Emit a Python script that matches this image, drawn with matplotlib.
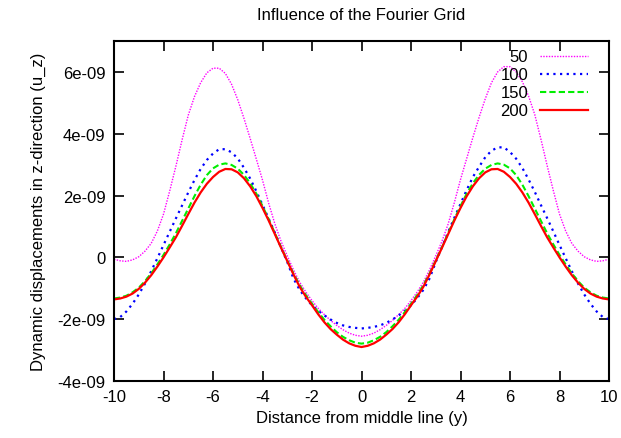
import matplotlib
matplotlib.use("Agg")
import matplotlib.pyplot as plt

plt.rcParams['font.family'] = ['Liberation Sans', 'DejaVu Sans']

x = [-10.0, -9.75, -9.5, -9.25, -9.0, -8.75, -8.5, -8.25, -8.0, -7.75,
     -7.5, -7.25, -7.0, -6.75, -6.5, -6.25, -6.0, -5.75, -5.5, -5.25,
     -5.0, -4.75, -4.5, -4.25, -4.0, -3.75, -3.5, -3.25, -3.0, -2.75,
     -2.5, -2.25, -2.0, -1.75, -1.5, -1.25, -1.0, -0.75, -0.5, -0.25,
     0.0,
     0.25, 0.5, 0.75, 1.0, 1.25, 1.5, 1.75, 2.0, 2.25, 2.5,
     2.75, 3.0, 3.25, 3.5, 3.75, 4.0, 4.25, 4.5, 4.75, 5.0,
     5.25, 5.5, 5.75, 6.0, 6.25, 6.5, 6.75, 7.0, 7.25, 7.5,
     7.75, 8.0, 8.25, 8.5, 8.75, 9.0, 9.25, 9.5, 9.75, 10.0]

# values in units of 1e-9
u50 = [-0.06, -0.11, -0.13, -0.08, 0.02, 0.2, 0.45, 0.85, 1.4, 2.15,
       2.95, 3.8, 4.6, 5.2, 5.65, 5.97, 6.12, 6.12, 5.95, 5.6,
       5.1, 4.5, 3.85, 3.18, 2.5, 1.75, 1.08, 0.52, 0.05, -0.4,
       -0.8, -1.12, -1.4, -1.65, -1.85, -2.04, -2.2, -2.34, -2.45, -2.52,
       -2.55,
       -2.52, -2.45, -2.34, -2.2, -2.04, -1.85, -1.65, -1.4, -1.12, -0.8,
       -0.4, 0.05, 0.52, 1.08, 1.77, 2.52, 3.2, 3.88, 4.53, 5.13,
       5.65, 6.0, 6.17, 6.17, 6.0, 5.68, 5.22, 4.62, 3.82, 2.97,
       2.16, 1.4, 0.85, 0.45, 0.2, 0.02, -0.08, -0.13, -0.11, -0.06]
u100 = [-2.0, -1.93, -1.75, -1.5, -1.2, -0.85, -0.45, -0.03, 0.4, 0.83,
        1.26, 1.68, 2.1, 2.5, 2.86, 3.15, 3.36, 3.5, 3.5, 3.4,
        3.2, 2.9, 2.55, 2.14, 1.7, 1.25, 0.8, 0.32, -0.15, -0.68,
        -1.05, -1.32, -1.55, -1.73, -1.88, -2.01, -2.12, -2.2, -2.25, -2.28,
        -2.3,
        -2.28, -2.25, -2.2, -2.12, -2.01, -1.88, -1.73, -1.55, -1.32, -1.05,
        -0.68, -0.15, 0.33, 0.82, 1.28, 1.73, 2.18, 2.6, 2.93, 3.24,
        3.45, 3.56, 3.56, 3.41, 3.19, 2.89, 2.52, 2.12, 1.69, 1.27,
        0.84, 0.4, -0.03, -0.45, -0.85, -1.2, -1.5, -1.75, -1.93, -2.0]
u150 = [-1.33, -1.3, -1.24, -1.13, -0.98, -0.77, -0.52, -0.23, 0.08, 0.42,
        0.78, 1.18, 1.58, 1.98, 2.35, 2.66, 2.88, 3.0, 3.04, 2.99,
        2.87, 2.67, 2.4, 2.06, 1.66, 1.23, 0.78, 0.33, -0.1, -0.52,
        -0.9, -1.22, -1.5, -1.77, -2.02, -2.23, -2.42, -2.57, -2.68, -2.76,
        -2.79,
        -2.76, -2.68, -2.57, -2.42, -2.23, -2.02, -1.77, -1.5, -1.22, -0.9,
        -0.52, -0.1, 0.33, 0.78, 1.23, 1.66, 2.06, 2.4, 2.67, 2.87,
        2.99, 3.04, 3.0, 2.88, 2.66, 2.35, 1.98, 1.58, 1.18, 0.78,
        0.42, 0.08, -0.23, -0.52, -0.77, -0.98, -1.13, -1.24, -1.3, -1.33]
u200 = [-1.36, -1.33, -1.27, -1.17, -1.02, -0.82, -0.58, -0.3, 0.0, 0.32,
        0.65, 1.02, 1.4, 1.77, 2.1, 2.38, 2.6, 2.77, 2.86, 2.85,
        2.75, 2.56, 2.3, 1.98, 1.6, 1.19, 0.75, 0.31, -0.12, -0.55,
        -0.95, -1.27, -1.55, -1.84, -2.1, -2.32, -2.5, -2.66, -2.78, -2.86,
        -2.9,
        -2.86, -2.78, -2.66, -2.5, -2.32, -2.1, -1.84, -1.55, -1.27, -0.95,
        -0.55, -0.12, 0.31, 0.75, 1.19, 1.6, 1.98, 2.3, 2.56, 2.75,
        2.85, 2.86, 2.77, 2.6, 2.38, 2.1, 1.77, 1.4, 1.02, 0.65,
        0.32, 0.0, -0.3, -0.58, -0.82, -1.02, -1.17, -1.27, -1.33, -1.36]

labels = ["50", "100", "150", "200"]
xticks = [-10, -8, -6, -4, -2, 0, 2, 4, 6, 8, 10]
yticks = [-4e-9, -2e-9, 0, 2e-9, 4e-9, 6e-9]
yticklabels = ["-4e-09", "-2e-09", "0", "2e-09", "4e-09", "6e-09"]

fig = plt.figure(figsize=(6.21, 4.39), dpi=100)
ax = fig.add_axes([0.1836, 0.1298, 0.9807 - 0.1836, 0.9043 - 0.1298])

scale = 1e-9
ax.plot(x, [v * scale for v in u50], color='#ff00ff', lw=1.0,
        linestyle=(0, (1, 1)), label=labels[0])
ax.plot(x, [v * scale for v in u100], color='#0000ff', lw=1.6,
        linestyle=(0, (1, 2)), label=labels[1])
ax.plot(x, [v * scale for v in u150], color='#00ee00', lw=1.5,
        linestyle=(0, (3, 1.5)), label=labels[2])
ax.plot(x, [v * scale for v in u200], color='#ff0000', lw=1.6,
        linestyle='-', label=labels[3])

ax.set_xlim(-10, 10)
ax.set_ylim(-4e-9, 7e-9)
ax.set_xticks(xticks)
ax.set_xticklabels([str(t) for t in xticks])
ax.set_yticks(yticks)
ax.set_yticklabels(yticklabels)
ax.tick_params(direction='in', length=7, width=1.2, top=True, right=True,
               labelsize=12, pad=6)
for s in ax.spines.values():
    s.set_linewidth(1.5)

ax.set_title("Influence of the Fourier Grid", fontsize=12, pad=16)
ax.set_xlabel("Distance from middle line (y)", fontsize=12, labelpad=4)
ax.set_ylabel("Dynamic displacements in z-direction (u_z)", fontsize=12, labelpad=8)

leg = ax.legend(loc='upper right', bbox_to_anchor=(0.975, 1.0), frameon=False,
                markerfirst=False, fontsize=12, handlelength=2.9,
                handletextpad=0.7, labelspacing=0.18, borderpad=0.3,
                borderaxespad=0.2)

fig.savefig("out.png", dpi=100)
